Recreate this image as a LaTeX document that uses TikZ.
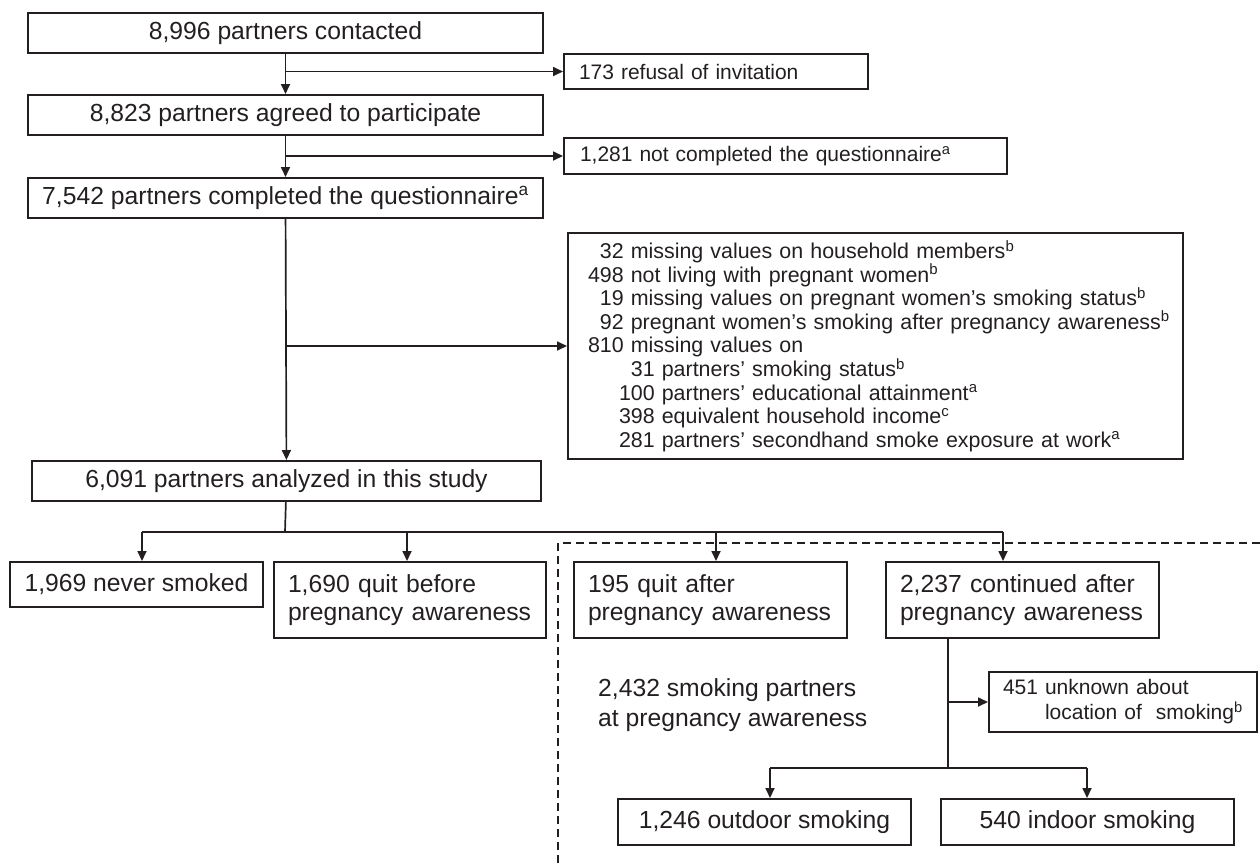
\documentclass[tikz,border=0pt]{standalone}
\usepackage{fontspec}
\setmainfont{Liberation Sans}
\usepackage{xcolor}
\usetikzlibrary{arrows.meta,positioning}

\definecolor{ink}{HTML}{231F20}

\tikzset{
  flow box/.style={draw=ink, line width=2pt, text=ink, anchor=north west, inner ysep=0pt},
  big text/.style={font=\fontsize{24.7pt}{28pt}\selectfont},
  small text/.style={font=\fontsize{21pt}{25pt}\selectfont},
  mid box/.style={flow box, big text, inner xsep=0pt, align=center},
  left box/.style={flow box, big text, inner xsep=14pt, align=left},
  side box/.style={flow box, small text, inner xsep=15pt, align=left},
  link/.style={draw=ink, line width=1.7pt}
}

\begin{document}
\begin{tikzpicture}[x=1pt, y=-1pt, >={Triangle[length=10pt,width=9pt]}]
\useasboundingbox (0,0) rectangle (1260,863);

% main column
\node [mid box, minimum width=515pt, minimum height=40pt] (contacted) at (27,12) {8,996 partners contacted};
\node [mid box, minimum width=515pt, minimum height=40pt] (agreed) at (27,94) {8,823 partners agreed to participate};
\node [mid box, minimum width=515pt, minimum height=40pt] (completed) at (27,177) {7,542 partners completed the questionnaire\textsuperscript{a}};
\node [mid box, minimum width=509pt, minimum height=40pt] (analyzed) at (31,460) {6,091 partners analyzed in this study};

% exclusions
\node [side box, text width=274pt, minimum height=35pt] (refusal) at (563,53) {173 refusal of invitation};
\node [side box, text width=411pt, minimum height=36pt, inner xsep=16pt] (notdone) at (563,137) {1,281 not completed the questionnaire\textsuperscript{a}};
\node [flow box, font=\fontsize{21.4pt}{23.6pt}\selectfont, align=left, text width=575pt, inner xsep=20pt, minimum height=226pt] (missing) at (567,232) {%
  \phantom{0}32 missing values on household members\textsuperscript{b}\\
  498 not living with pregnant women\textsuperscript{b}\\
  \phantom{0}19 missing values on pregnant women’s smoking status\textsuperscript{b}\\
  \makebox[\linewidth][l]{\phantom{0}92 pregnant women’s smoking after pregnancy awareness\textsuperscript{b}}\\
  810 missing values on\\
  \hspace*{31pt}\phantom{0}31 partners’ smoking status\textsuperscript{b}\\
  \hspace*{31pt}100 partners’ educational attainment\textsuperscript{a}\\
  \hspace*{31pt}398 equivalent household income\textsuperscript{c}\\
  \hspace*{31pt}281 partners’ secondhand smoke exposure at work\textsuperscript{a}};

% smoking status
\node [mid box, minimum width=253pt, minimum height=45pt] (never) at (9,561) {1,969 never smoked};
\node [left box, text width=244pt, minimum height=76pt] (quitbefore) at (273,561) {1,690 quit before\\pregnancy awareness};
\node [left box, text width=245pt, minimum height=76pt] (quitafter) at (573,561) {195 quit after\\pregnancy awareness};
\node [left box, text width=245pt, minimum height=76pt] (continued) at (885,561) {2,237 continued after\\pregnancy awareness};
\node [big text, text=ink, font=\fontsize{24.7pt}{30pt}\selectfont, align=left, inner sep=0pt, anchor=west] (smokers) at (598,705) {2,432 smoking partners\\at pregnancy awareness};

% location of smoking
\node [side box, text width=240pt, minimum height=60pt, inner xsep=14pt] (unknown) at (988,671) {451 unknown about\\\phantom{451}\ location of\ \ smoking\textsuperscript{b}};
\node [mid box, minimum width=293pt, minimum height=46pt] (outdoor) at (617,798) {1,246 outdoor smoking};
\node [mid box, minimum width=293pt, minimum height=46pt] (indoor) at (940,798) {540 indoor smoking};

% connectors
\draw [link, ->] (contacted) -- (agreed);
\draw [link, ->] (agreed) -- (completed);
\draw [link, ->] (completed) -- (analyzed);

\draw [link, ->] (contacted.south |- refusal.west) -- (refusal.west);
\draw [link, ->] (agreed.south |- notdone.west) -- (notdone.west);
\draw [link, ->] (completed.south |- missing.west) -- (missing.west);

\coordinate (fork) at (285,532);
\draw [link] (analyzed) -- (fork);
\foreach \t/\x in {never/142, quitbefore/407, quitafter/716, continued/1003} {
  \coordinate (\t-drop) at (\x,532);
  \draw [link, ->] (\t-drop) -- (\t-drop |- \t.north);
}
\draw [link] (never-drop) -- (continued-drop);

\coordinate (where) at (948,768);
\draw [link] (continued.south -| where) -- (where);
\draw [link, ->] (where |- unknown.west) -- (unknown.west);
\foreach \t/\x in {outdoor/770, indoor/1087} {
  \coordinate (\t-drop) at (\x,768);
  \draw [link, ->] (\t-drop) -- (\t-drop |- \t.north);
}
\draw [link] (outdoor-drop) -- (indoor-drop);

% smokers at pregnancy awareness
\coordinate (dash-low) at (558,863);
\coordinate (dash-corner) at (558,543);
\coordinate (dash-end) at (1260,543);
\draw [ink, line width=1.4pt, dash pattern=on 8pt off 5pt] (dash-low) -- (dash-corner) -- (dash-end);

\end{tikzpicture}
\end{document}
